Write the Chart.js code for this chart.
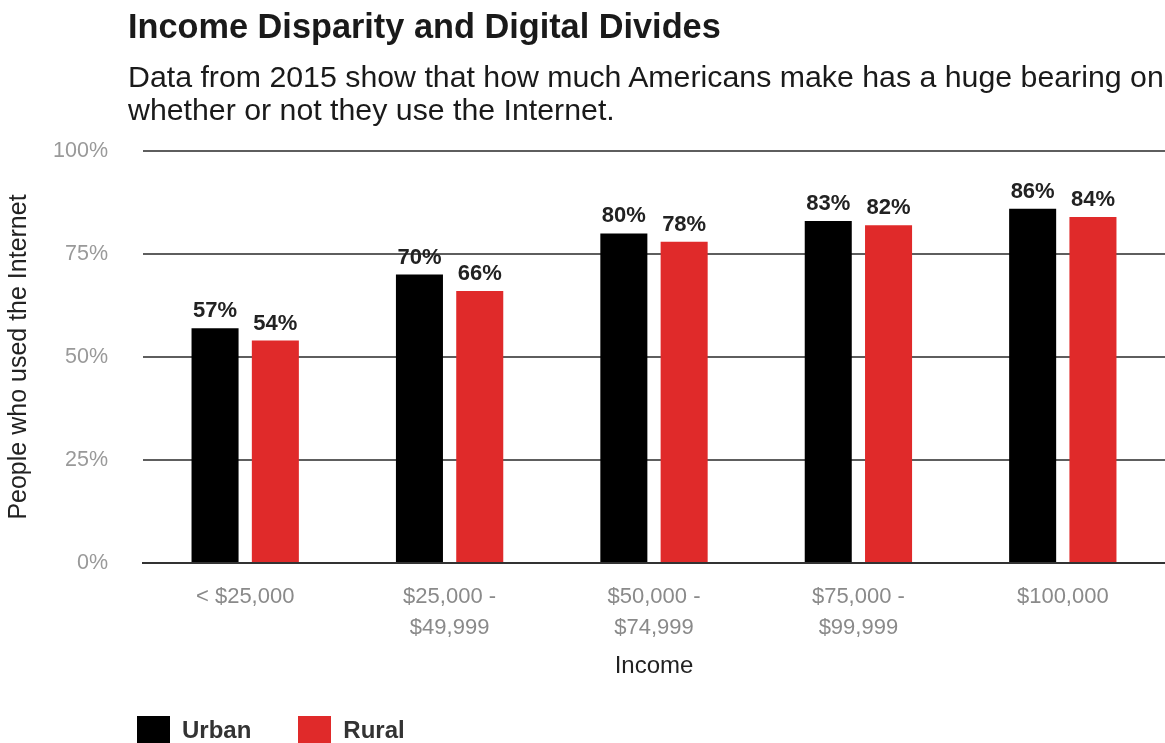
<!DOCTYPE html>
<html>
<head>
<meta charset="utf-8">
<script src="https://cdn.jsdelivr.net/npm/chart.js@4.4.0/dist/chart.umd.min.js"></script>
<style>
  html, body { margin: 0; padding: 0; background: #fff; }
  #wrap { position: relative; width: 1165px; height: 743px; overflow: hidden; font-family: "Liberation Sans", Arial, sans-serif; }
  #title { position: absolute; left: 128px; top: 6px; font-size: 34.3px; line-height: 40px; font-weight: bold; color: #1a1a1a; white-space: nowrap; }
  #subtitle { position: absolute; left: 128px; top: 60px; font-size: 30.3px; line-height: 33px; color: #1a1a1a; white-space: nowrap; }
  #legend { position: absolute; left: 137px; top: 716px; display: flex; align-items: center; }
  .item { display: flex; align-items: center; font-size: 24px; line-height: 28px; font-weight: bold; color: #333; }
  .item + .item { margin-left: 47px; }
  .sw { width: 33px; height: 28px; margin-right: 12px; }
  canvas { position: absolute; left: 0; top: 0; }
</style>
</head>
<body>
<div id="wrap">
  <canvas id="c" width="1165" height="743"></canvas>
  <div id="title">Income Disparity and Digital Divides</div>
  <div id="subtitle">Data from 2015 show that how much Americans make has a huge bearing on<br>whether or not they use the Internet.</div>
  <div id="legend"></div>
</div>
<script>
const categories = [["< $25,000"], ["$25,000 -", "$49,999"], ["$50,000 -", "$74,999"], ["$75,000 -", "$99,999"], ["$100,000"]];
const urban = [57, 70, 80, 83, 86];
const rural = [54, 66, 78, 82, 84];
const yTicks = [0, 25, 50, 75, 100];
const seriesNames = ["Urban", "Rural"];
const seriesColors = ["#000000", "#e02a2a"];

const FONT = '"Liberation Sans", Arial, sans-serif';

const labelPlugin = {
  id: 'valueLabels',
  afterDatasetsDraw(chart) {
    const ctx = chart.ctx;
    ctx.save();
    ctx.font = 'bold 22px ' + FONT;
    ctx.fillStyle = '#222';
    ctx.textAlign = 'center';
    ctx.textBaseline = 'alphabetic';
    chart.data.datasets.forEach((ds, i) => {
      const meta = chart.getDatasetMeta(i);
      meta.data.forEach((bar, j) => {
        ctx.fillText(ds.data[j] + '%', bar.x, bar.y - 11);
      });
    });
    ctx.restore();
  }
};

const chart = new Chart(document.getElementById('c'), {
  type: 'bar',
  data: {
    labels: categories,
    datasets: [
      { label: seriesNames[0], data: urban, backgroundColor: seriesColors[0] },
      { label: seriesNames[1], data: rural, backgroundColor: seriesColors[1] }
    ]
  },
  options: {
    responsive: false,
    animation: false,
    layout: { padding: { top: 151, right: 0, bottom: 58, left: 0 } },
    datasets: { bar: { categoryPercentage: 0.59, barPercentage: 0.78 } },
    plugins: {
      legend: { display: false },
      title: { display: false },
      tooltip: { enabled: false }
    },
    scales: {
      x: {
        afterFit(axis) { axis.height = 122; },
        grid: { display: false },
        border: { display: true, color: '#333', width: 2 },
        ticks: { color: '#8a8a8a', font: { size: 22, family: FONT, lineHeight: 1.4 }, padding: 11, maxRotation: 0 },
        title: { display: true, text: 'Income', color: '#222', font: { size: 24, family: FONT }, padding: { top: 0, bottom: 4 } }
      },
      y: {
        min: 0, max: 100,
        afterFit(axis) { axis.width = 143; },
        afterBuildTicks(axis) { axis.ticks = yTicks.map(v => ({ value: v })); },
        grid: { color: '#5e5e5e', lineWidth: 2, drawTicks: false },
        border: { display: false },
        ticks: { color: '#999', font: { size: 21.5, family: FONT }, padding: 35, callback: v => v + '%' },
        title: { display: true, text: 'People who used the Internet', color: '#222', font: { size: 25, family: FONT }, padding: { top: 4, bottom: 10 } }
      }
    }
  },
  plugins: [labelPlugin]
});

const leg = document.getElementById('legend');
seriesNames.forEach((n, i) => {
  const it = document.createElement('div');
  it.className = 'item';
  const sw = document.createElement('div');
  sw.className = 'sw';
  sw.style.background = seriesColors[i];
  it.appendChild(sw);
  it.appendChild(document.createTextNode(n));
  leg.appendChild(it);
});
</script>
</body>
</html>
